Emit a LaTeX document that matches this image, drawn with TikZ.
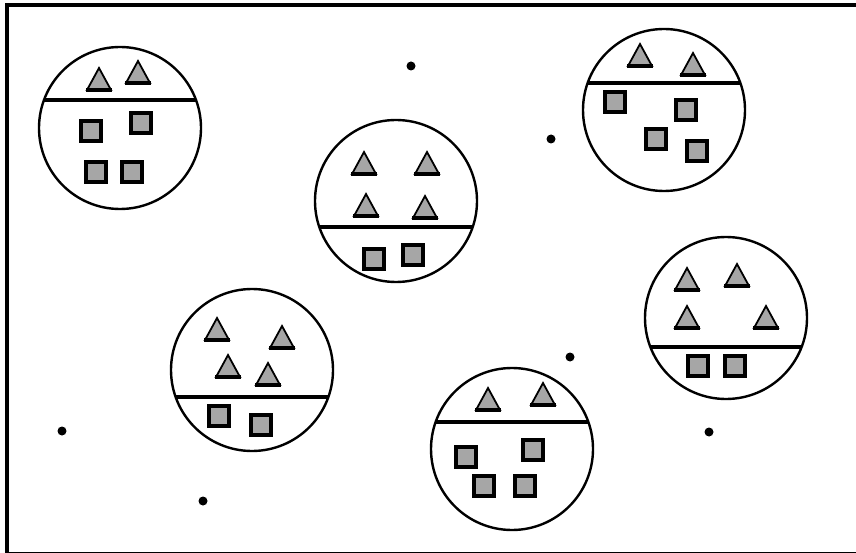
\documentclass[tikz,border=0pt]{standalone}
\definecolor{fillgray}{HTML}{A6A6A6}
\tikzset{
  cellline/.style={line width=2.4pt},
  chordline/.style={line width=3.5pt},
  sqbox/.style={draw=black, fill=fillgray, line width=4pt},
  tribox/.style={draw=black, fill=fillgray, line width=1.8pt, line join=miter},
  tribase/.style={line width=4pt},
  dotmark/.style={fill=black},
  framebox/.style={line width=4pt},
}
\newcommand\mytri[2]{%
  \filldraw[tribox] (#1,#2-22) -- (#1+12,#2) -- (#1-12,#2) -- cycle;
  \draw[tribase] (#1-13,#2) -- (#1+13,#2);}
\newcommand\mysq[2]{\draw[sqbox] (#1-10,#2-10) rectangle (#1+10,#2+10);}
\newcommand\mycell[3]{%
  \begin{scope}
    \clip (#1,#2) circle (81);
    \draw[chordline] (#1-90,#3) -- (#1+90,#3);
  \end{scope}
  \draw[cellline] (#1,#2) circle (81);}
\newcommand\mydot[2]{\fill[dotmark] (#1,#2) circle (4.5);}
\begin{document}
\begin{tikzpicture}[x=1pt,y=-1pt]
  \clip (0,0) rectangle (856,553);
  \fill[white] (0,0) rectangle (856,553);
  \draw[framebox] (7,5) rectangle (866,554);
  % cell 1
  \mycell{120}{128}{100}
  \mytri{99}{90}\mytri{138}{83}
  \mysq{91}{131}\mysq{140.5}{123}\mysq{95.5}{172}\mysq{132}{172}
  % cell 2
  \mycell{396}{201}{227}
  \mytri{364}{174}\mytri{427}{174}\mytri{366}{216}\mytri{425}{218}
  \mysq{373.5}{259}\mysq{413}{255}
  % cell 3
  \mycell{664}{110}{83}
  \mytri{640}{66}\mytri{693}{75}
  \mysq{615}{102}\mysq{685.5}{110}\mysq{656}{139.5}\mysq{697}{151.5}
  % cell 4
  \mycell{252}{370}{397}
  \mytri{217}{340}\mytri{282}{348}\mytri{228}{377}\mytri{268}{385}
  \mysq{219}{416}\mysq{260.5}{424.5}
  % cell 5
  \mycell{512}{449}{422}
  \mytri{488}{410}\mytri{543}{405}
  \mysq{466}{457}\mysq{532.5}{449.5}\mysq{483.5}{486}\mysq{524.5}{486}
  % cell 6
  \mycell{726}{318}{347}
  \mytri{687}{290}\mytri{737}{286}\mytri{687}{328}\mytri{766}{328}
  \mysq{697.5}{366}\mysq{734.5}{366}
  % dots
  \mydot{411}{66}\mydot{551}{139}\mydot{570}{357}
  \mydot{709}{432}\mydot{62}{431}\mydot{203}{501}
\end{tikzpicture}
\end{document}
